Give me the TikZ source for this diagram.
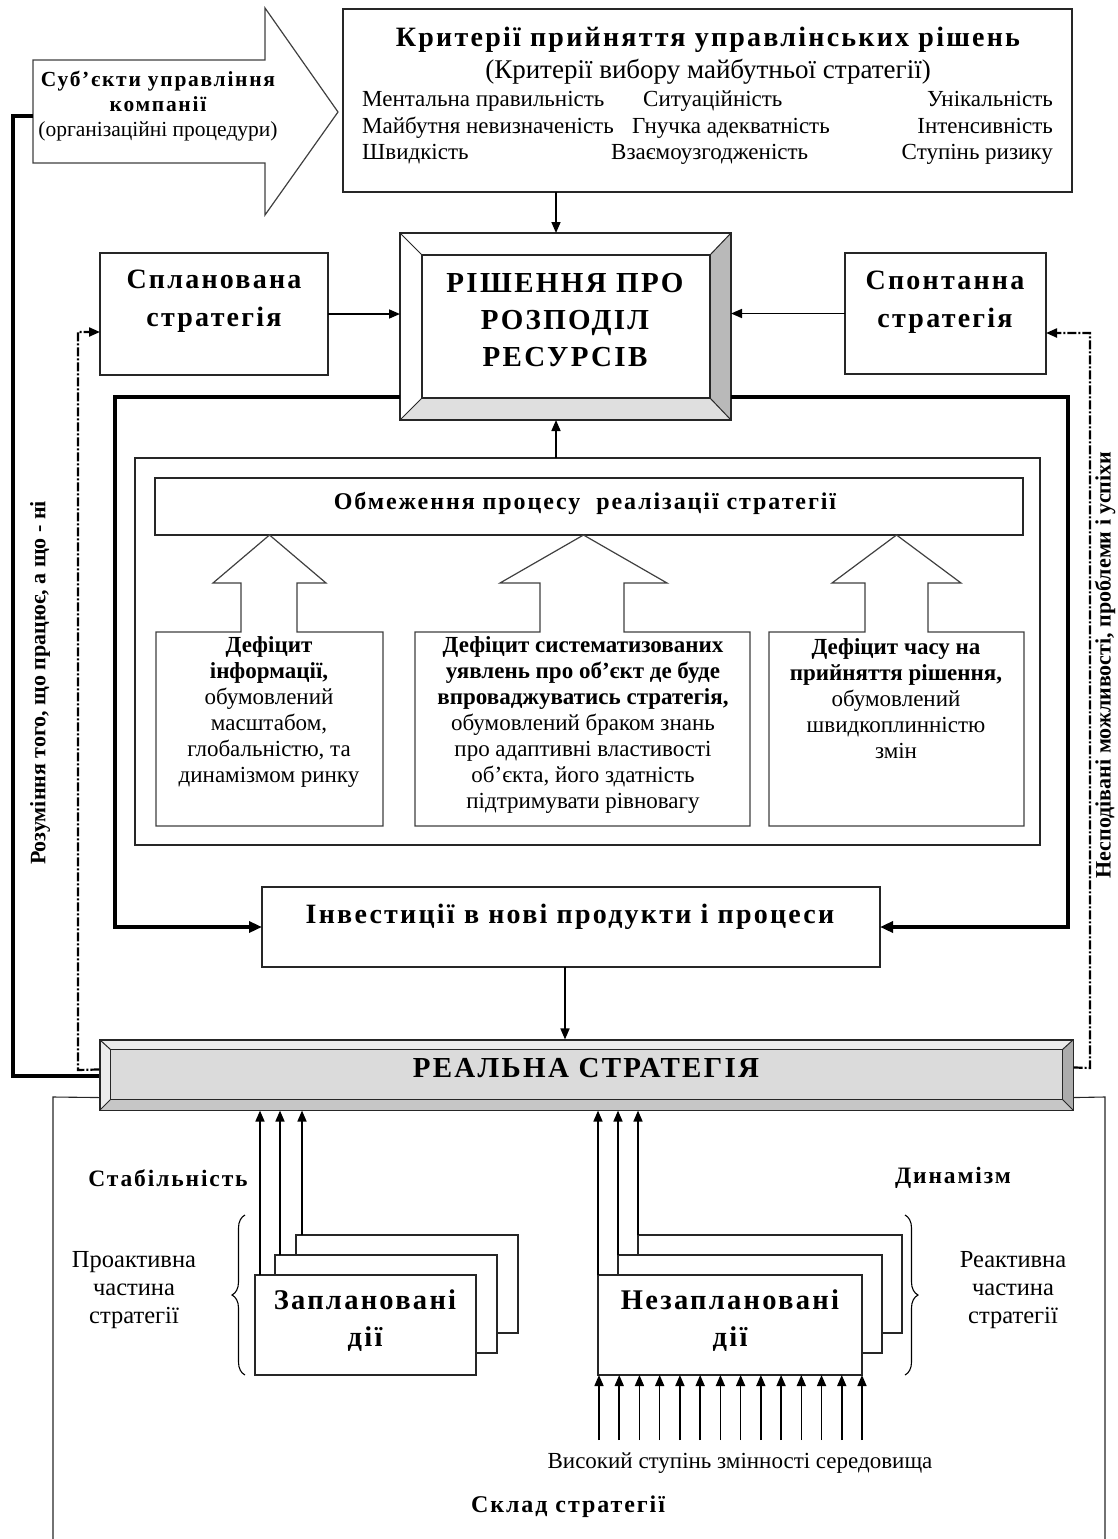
\documentclass[tikz,border=0pt]{standalone}
\usepackage{fontspec}
\setmainfont{Liberation Serif}
\newfontfamily\spc[LetterSpace=8]{Liberation Serif}
\usetikzlibrary{arrows.meta,calc,decorations.pathreplacing}
\newcommand\FS[2]{\fontsize{#1}{#2}\selectfont}
\begin{document}
\begin{tikzpicture}[x=1pt,y=-1pt,
  box/.style={draw=black!85, line width=1.1pt, fill=white, inner sep=0pt, outer sep=0pt},
  arr/.style={line width=1.6pt, -{Triangle[length=11pt,width=9pt]}},
  thk/.style={line width=4pt, line join=miter},
  dd/.style={line width=2.2pt, dash pattern=on 9pt off 2pt on 2pt off 2pt, -{Triangle[length=11pt,width=9pt]}},
  txt/.style={inner sep=0pt, align=center},
  barrow/.style={draw=black!75, line width=1.2pt, fill=white, line join=miter}]
\useasboundingbox (0,0) rectangle (1118,1539);

% ---- subjects arrow
\draw[barrow] (33,60) -- (265,60) -- (265,8) -- (338,112) -- (265,215) -- (265,163) -- (33,163) -- cycle;
\coordinate (subjL) at (33,116);
\node[txt, font=\FS{21.5}{25}] (subj) at (158,106) {{\spc\bfseries Суб’єкти управління}\\{\spc\bfseries компанії}\\(організаційні процедури)};

% ---- criteria box
\node[box, minimum width=729pt, minimum height=183pt] (crit) at (707.5,100.5) {};
\node[txt, font=\spc\bfseries\FS{28}{28}] (critT) at (708,40) {Критерії прийняття управлінських рішень};
\node[txt, font=\FS{27}{27}] (critS) at (708,72) {(Критерії вибору майбутньої стратегії)};
\begin{scope}[every node/.style={inner sep=0pt, font=\FS{23}{23}}]
\node[anchor=base west] (c11) at (362,106) {Ментальна правильність};
\node[anchor=base west] (c12) at (643,106) {Ситуаційність};
\node[anchor=base east] (c13) at (1053,106) {Унікальність};
\node[anchor=base west] (c21) at (362,133) {Майбутня невизначеність};
\node[anchor=base west] (c22) at (632,133) {Гнучка адекватність};
\node[anchor=base east] (c23) at (1053,133) {Інтенсивність};
\node[anchor=base west] (c31) at (362,159) {Швидкість};
\node[anchor=base west] (c32) at (611,159) {Взаємоузгодженість};
\node[anchor=base east] (c33) at (1053,159) {Ступінь ризику};
\end{scope}

% ---- decision box (bevel)
\node[box, minimum width=331pt, minimum height=187pt] (dec) at (565.5,326.5) {};
\fill[gray!55] (dec.north east) -- (dec.south east) -- ($(dec.south east)+(-21,-22)$) -- ($(dec.north east)+(-21,22)$) -- cycle;
\fill[gray!25] (dec.south west) -- (dec.south east) -- ($(dec.south east)+(-21,-22)$) -- ($(dec.south west)+(22,-22)$) -- cycle;
\draw[line width=1.1pt, draw=black!85] ($(dec.north west)+(22,22)$) rectangle ($(dec.south east)+(-21,-22)$);
\draw[line width=1pt, draw=black!85] (dec.north west) -- ($(dec.north west)+(22,22)$)
  (dec.north east) -- ($(dec.north east)+(-21,22)$)
  (dec.south west) -- ($(dec.south west)+(22,-22)$)
  (dec.south east) -- ($(dec.south east)+(-21,-22)$);
\draw[line width=1.1pt, draw=black!85] (dec.north west) rectangle (dec.south east);
\node[txt, font=\spc\bfseries\FS{29}{37}] (decT) at (565,320) {РІШЕННЯ ПРО\\РОЗПОДІЛ\\РЕСУРСІВ};

\coordinate (x556) at (556,0);
\draw[arr] (crit.south -| x556) -- (dec.north -| x556);

% ---- planned / spontaneous
\node[box, minimum width=228pt, minimum height=122pt] (plan) at (214,314) {};
\node[txt, font=\spc\bfseries\FS{28}{38}] (planT) at (214,301) {Спланована\\стратегія};
\node[box, minimum width=201pt, minimum height=121pt] (spont) at (945.5,313.5) {};
\node[txt, font=\spc\bfseries\FS{28}{38}] (spontT) at (945,302) {Спонтанна\\стратегія};
\draw[arr] (plan.east) -- (plan.east -| dec.west);
\draw[arr] (spont.west) -- (spont.west -| dec.east);

% ---- constraints frame
\node[box, minimum width=905pt, minimum height=387pt] (cons) at (587.5,651.5) {};
\draw[arr] (cons.north -| x556) -- (dec.south -| x556);
\node[box, minimum width=868pt, minimum height=57pt] (obm) at (589,506.5) {};
\node[txt, font=\spc\bfseries\FS{24}{24}] (obmT) at (585,503) {Обмеження процесу\ \ реалізації стратегії};

% block arrows
\draw[barrow] (156,826) -- (156,632) -- (241,632) -- (241,583) -- (213,583) -- (269.5,535) -- (326,583) -- (297,583) -- (297,632) -- (383,632) -- (383,826) -- cycle;
\draw[barrow] (415,826) -- (415,632) -- (540,632) -- (540,583) -- (500,583) -- (583.5,535) -- (667,583) -- (624,583) -- (624,632) -- (750,632) -- (750,826) -- cycle;
\draw[barrow] (769,826) -- (769,632) -- (865,632) -- (865,583) -- (832,583) -- (896.5,535) -- (961,583) -- (928,583) -- (928,632) -- (1024,632) -- (1024,826) -- cycle;
\node[txt, font=\FS{23}{26}] (def1) at (269,712) {\textbf{Дефіцит}\\\textbf{інформації,}\\обумовлений\\масштабом,\\глобальністю, та\\динамізмом ринку};
\node[txt, font=\FS{23}{26}] (def2) at (583,725) {\textbf{Дефіцит систематизованих}\\\textbf{уявлень про об’єкт де буде}\\\textbf{впроваджуватись стратегія,}\\обумовлений браком знань\\про адаптивні властивості\\об’єкта, його здатність\\підтримувати рівновагу};
\node[txt, font=\FS{23}{26}] (def3) at (896,699) {\textbf{Дефіцит часу на}\\\textbf{прийняття рішення,}\\обумовлений\\швидкоплинністю\\змін};

% ---- investments
\node[box, minimum width=618pt, minimum height=80pt] (inv) at (571,927) {};
\node[txt, font=\spc\bfseries\FS{28}{28}] (invT) at (570,917) {Інвестиції в нові продукти і процеси};
\draw[thk, -{Triangle[length=13pt,width=11pt]}] ($(dec.south west)+(0,-23)$) -- (115,397) |- (inv.west);
\draw[thk, -{Triangle[length=13pt,width=11pt]}] ($(dec.south east)+(0,-23)$) -- (1068,397) |- (inv.east);

% ---- real strategy (bevel)
\node[draw=black!85, line width=1.1pt, fill=gray!15, inner sep=0pt, minimum width=973pt, minimum height=70pt] (real) at (586.5,1075) {};
\fill[gray!65] (real.north east) -- (real.south east) -- ($(real.south east)+(-11,-11)$) -- ($(real.north east)+(-11,10)$) -- cycle;
\fill[gray!45] (real.south west) -- (real.south east) -- ($(real.south east)+(-11,-11)$) -- ($(real.south west)+(11,-11)$) -- cycle;
\filldraw[fill=gray!28, draw=black!85, line width=1.1pt] ($(real.north west)+(11,10)$) rectangle ($(real.south east)+(-11,-11)$);
\draw[line width=1pt, draw=black!85] (real.north west) -- ($(real.north west)+(11,10)$)
  (real.north east) -- ($(real.north east)+(-11,10)$)
  (real.south west) -- ($(real.south west)+(11,-11)$)
  (real.south east) -- ($(real.south east)+(-11,-11)$);
\draw[line width=1.1pt, draw=black!85] (real.north west) rectangle (real.south east);
\node[txt, font=\spc\bfseries\FS{29}{29}] (realT) at (586,1068) {РЕАЛЬНА СТРАТЕГІЯ};
\coordinate (x565) at (565,0);
\draw[arr] (inv.south -| x565) -- (real.north -| x565);

% ---- feedback lines
\draw[thk] (subjL) -- (13,116) |- ($(real.north west)+(0,37)$);
\draw[dd] ($(real.north west)+(0,30)$) -- (78,1070) |- ($(plan.south west)+(0,-43)$);
\draw[dd] ($(real.north east)+(0,28)$) -- (1090,1068) |- ($(spont.south east)+(0,-41)$);
\node[txt, rotate=90, font=\bfseries\FS{22}{22}] (lblL) at (40,683) {Розуміння того, що працює, а що - ні};
\node[txt, rotate=90, font=\bfseries\FS{22}{22}] (lblR) at (1105,665) {Несподівані можливості, проблеми і успіхи};

% ---- composition frame
\draw[line width=1.1pt, draw=black!85] ($(real.south west)+(0,-13)$) -- (53,1097) -- (53,1539);
\draw[line width=1.1pt, draw=black!85] ($(real.south east)+(0,-13)$) -- (1105,1097) -- (1105,1539);

% planned actions
\node[box, minimum width=222pt, minimum height=98pt] (zb) at (407,1284) {};
\node[box, minimum width=222pt, minimum height=98pt] (zm) at (386,1304) {};
\node[box, minimum width=221pt, minimum height=100pt] (zf) at (365.5,1325) {};
\node[txt, font=\spc\bfseries\FS{28.5}{37}] (zT) at (365,1321) {Заплановані\\дії};
\coordinate (za1) at (260,1275);
\coordinate (za2) at (280,1255);
\coordinate (za3) at (302,1235);
\draw[arr] (za1) -- (za1 |- real.south);
\draw[arr] (za2) -- (za2 |- real.south);
\draw[arr] (za3) -- (za3 |- real.south);

% unplanned actions
\node[box, minimum width=264pt, minimum height=98pt] (nb) at (770,1284) {};
\node[box, minimum width=264pt, minimum height=98pt] (nm) at (750,1304) {};
\node[box, minimum width=264pt, minimum height=100pt] (nf) at (730,1325) {};
\node[txt, font=\spc\bfseries\FS{28.5}{37}] (nT) at (730,1321) {Незаплановані\\дії};
\draw[arr] (nf.north west) -- (nf.north west |- real.south);
\draw[arr] (nm.north west) -- (nm.north west |- real.south);
\draw[arr] (nb.north west) -- (nb.north west |- real.south);
\foreach \i in {0,...,13} {
  \coordinate (ea\i) at ({599+20.23*\i},1440);
  \draw[arr] (ea\i) -- (ea\i |- nf.south);
}

% braces and labels
\draw[line width=1.1pt, decorate, decoration={brace, amplitude=13pt}] (245,1375) -- (245,1215);
\draw[line width=1.1pt, decorate, decoration={brace, amplitude=13pt}] (905,1215) -- (905,1375);
\node[txt, font=\spc\bfseries\FS{23.5}{23.5}] (stab) at (168,1178) {Стабільність};
\node[txt, font=\spc\bfseries\FS{23.5}{23.5}] (dyn) at (953,1178) {Динамізм};
\node[txt, font=\FS{24.5}{28}] (proa) at (134,1290) {Проактивна\\частина\\стратегії};
\node[txt, font=\FS{24.5}{28}] (reac) at (1013,1290) {Реактивна\\частина\\стратегії};
\node[txt, font=\FS{23}{23}] (env) at (740,1463) {Високий ступінь змінності середовища};
\node[txt, font=\spc\bfseries\FS{24}{24}] (comp) at (568,1507) {Склад стратегії};
\end{tikzpicture}
\end{document}
